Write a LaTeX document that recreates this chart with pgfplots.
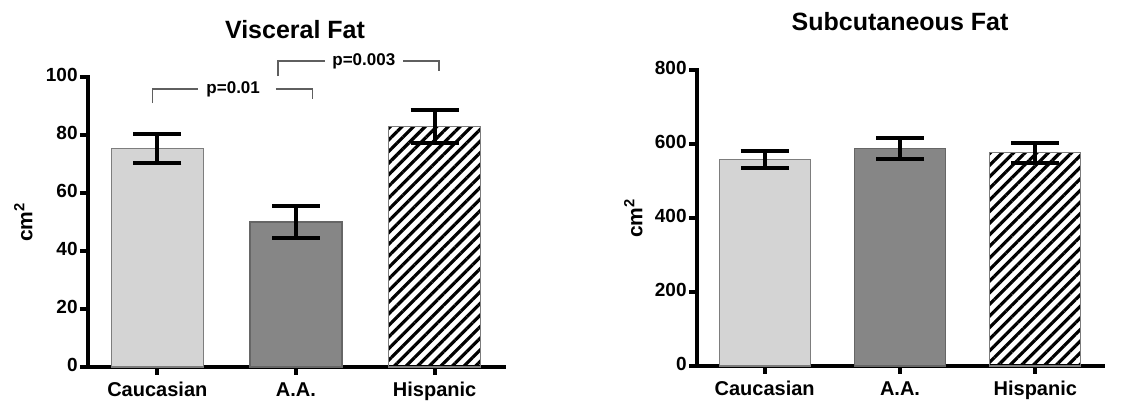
\documentclass[border=0pt]{standalone}
\usepackage{pgfplots}
\pgfplotsset{compat=1.18}
\usepackage{fontspec}
\setmainfont{Liberation Sans}
\usetikzlibrary{patterns.meta}

\definecolor{cauc}{RGB}{212,212,212}
\definecolor{aa}{RGB}{134,134,134}
\definecolor{edgegray}{RGB}{125,125,125}
\definecolor{brk}{RGB}{95,95,95}

\tikzset{pval/.style={font=\fontsize{8.5}{10}\selectfont\bfseries, inner sep=0pt}}

\pgfplotsset{
  fatbars/.style={
    scale only axis,
    axis x line*=bottom, axis y line*=left,
    axis line style={line width=2.4pt,-,black,line cap=rect},
    tick align=outside, major tick length=4pt,
    major tick style={line width=2pt,black},
    xmin=-0.5, xmax=2.5, ymin=0,
    xtick={0,1,2}, xticklabels={Caucasian,A.A.,Hispanic},
    typeset ticklabels with strut,
    clip=false,
    /pgf/number format/assume math mode=true,
    yticklabel style={font=\fontsize{9.5}{11}\selectfont\bfseries, inner sep=1pt},
    xticklabel style={font=\fontsize{10}{12}\selectfont\bfseries, inner sep=2pt},
  },
  errstyle/.style={
    error bars/.cd, y dir=both, y explicit,
    error bar style={line width=2pt,black},
    error mark options={rotate=90,line width=2pt,mark size=12pt,black},
  },
}

\begin{document}
\begin{tikzpicture}
\useasboundingbox (0,0) rectangle (560.5pt,200.5pt);

% ---- Visceral fat ----
\begin{axis}[fatbars, at={(44pt,17pt)}, anchor=south west,
  width=208pt, height=145pt, ymax=100, ytick={0,20,40,60,80,100}]
\addplot[ybar, bar width=46pt, bar shift=0pt, fill=cauc, draw=edgegray, line width=0.6pt, errstyle]
  coordinates {(0,75.3) +- (0,5.0)};
\addplot[ybar, bar width=46pt, bar shift=0pt, fill=aa, draw=black!60, line width=0.6pt, errstyle]
  coordinates {(1,50.0) +- (0,5.5)};
\addplot[ybar, bar width=46pt, bar shift=0pt, draw=edgegray, line width=0.6pt,
  pattern={Lines[angle=45,distance=4.1pt,line width=1.6pt]}, pattern color=black, errstyle]
  coordinates {(2,83.0) +- (0,5.6)};
% significance brackets
\draw[brk, line width=0.7pt] (axis cs:-0.036,91) |- (axis cs:0.29,95.9);
\draw[brk, line width=0.7pt] (axis cs:0.855,95.9) -| (axis cs:1.12,92.4);
\node[pval] at (axis cs:0.547,95.9) {p=0.01};
\draw[brk, line width=0.7pt] (axis cs:0.87,100.3) |- (axis cs:1.21,105.5);
\draw[brk, line width=0.7pt] (axis cs:1.775,105.5) -| (axis cs:2.03,102.1);
\node[pval] at (axis cs:1.489,105.5) {p=0.003};
\end{axis}
\node[font=\fontsize{12.5}{14}\selectfont\bfseries] at (147.5pt,185.5pt) {Visceral Fat};
\node[rotate=90, anchor=south, inner sep=0pt, font=\fontsize{10.5}{12}\selectfont\bfseries]
  at (16.5pt,89.5pt) {cm$^{\mathbf{2}}$};

% ---- Subcutaneous fat ----
\begin{axis}[fatbars, at={(348.5pt,17.5pt)}, anchor=south west,
  width=203pt, height=148pt, ymax=800, ytick={0,200,400,600,800}]
\addplot[ybar, bar width=45.5pt, bar shift=0pt, fill=cauc, draw=edgegray, line width=0.6pt, errstyle]
  coordinates {(0,558) +- (0,23)};
\addplot[ybar, bar width=45.5pt, bar shift=0pt, fill=aa, draw=black!60, line width=0.6pt, errstyle]
  coordinates {(1,588) +- (0,28)};
\addplot[ybar, bar width=45.5pt, bar shift=0pt, draw=edgegray, line width=0.6pt,
  pattern={Lines[angle=45,distance=4.1pt,line width=1.6pt]}, pattern color=black, errstyle]
  coordinates {(2,576) +- (0,27)};
\end{axis}
\node[font=\fontsize{12.5}{14}\selectfont\bfseries] at (450pt,189.5pt) {Subcutaneous Fat};
\node[rotate=90, anchor=south, inner sep=0pt, font=\fontsize{10.5}{12}\selectfont\bfseries]
  at (321.5pt,91.5pt) {cm$^{\mathbf{2}}$};
\end{tikzpicture}
\end{document}
